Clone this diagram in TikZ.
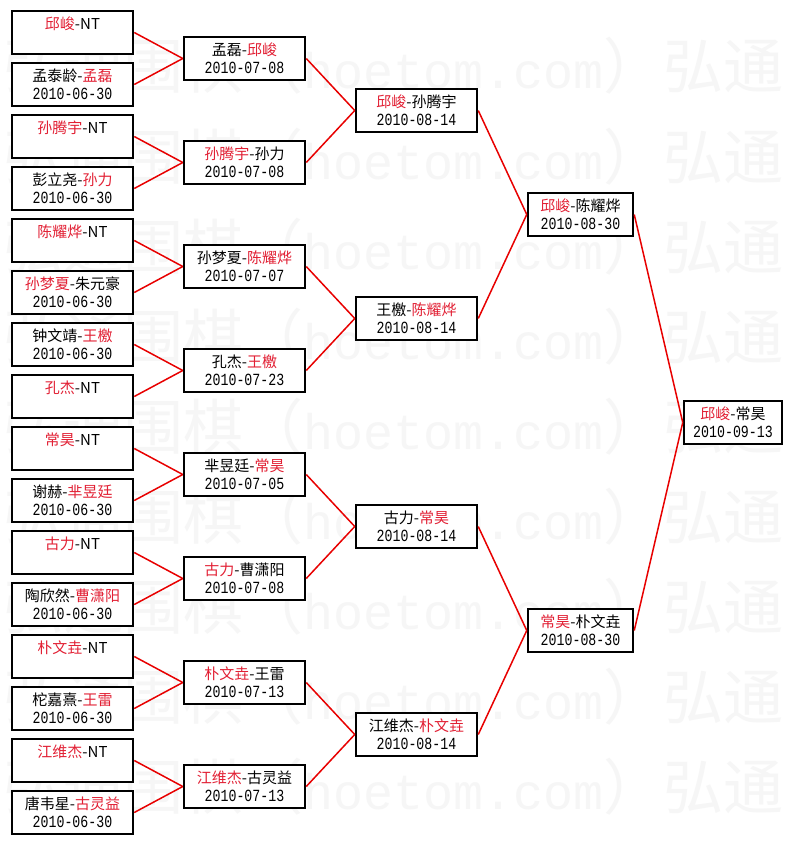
\documentclass[tikz,border=0pt]{standalone}
\usepackage{fontspec}
\setmainfont{Noto Sans CJK SC}
\newfontfamily\wmcjk{Noto Sans CJK SC}
\newfontfamily\datefont{Liberation Mono}[FakeStretch=0.78]
\newfontfamily\wmlat{Liberation Mono}
\definecolor{nred}{RGB}{226,32,52}
\definecolor{lred}{RGB}{232,0,0}
\definecolor{wmgray}{RGB}{246,246,246}
\newcommand\R[1]{\textcolor{nred}{#1}}
\newcommand\twol[2]{\vbox{\offinterlineskip\halign{\hfil##\hfil\cr
  \rule[-4.4pt]{0pt}{18.4pt}#1\cr
  \rule[-2.2pt]{0pt}{16.2pt}{\datefont\fontsize{17}{17}\selectfont #2}\cr}}}
\newcommand\wmrow{{\wmcjk 弘通围棋（}{\wmlat\fontsize{50}{50}\selectfont hoetom.com}{\wmcjk ）弘通}}
\tikzset{
  bx/.style={draw=black, line width=2pt, fill=white, inner sep=0pt,
    minimum height=43.5pt, font=\fontsize{15}{18}\selectfont},
  wa/.style={bx, minimum width=121.5pt},
  wb/.style={bx, minimum width=105.5pt},
  wc/.style={bx, minimum width=98.5pt},
  conn/.style={draw=lred, line width=1.5pt},
  wm/.style={text=wmgray, inner sep=0pt, anchor=base west, font=\fontsize{60}{60}\selectfont}
}
\begin{document}
\begin{tikzpicture}[x=1pt,y=-1pt]
\fill[white] (0,0) rectangle (792,845);
\useasboundingbox (0,0) rectangle (792,845);
% watermark
\foreach \i in {0,...,8} {
  \node[wm] (wm\i) at (3,{89+90*\i}) {\wmrow};
}
% column 1
\node[wa] (a0) at (72.5,32.5) {\twol{\R{邱峻}-NT}{}};
\node[wa] (a1) at (72.5,84.5) {\twol{孟泰龄-\R{孟磊}}{2010-06-30}};
\node[wa] (a2) at (72.5,136.5) {\twol{\R{孙腾宇}-NT}{}};
\node[wa] (a3) at (72.5,188.5) {\twol{彭立尧-\R{孙力}}{2010-06-30}};
\node[wa] (a4) at (72.5,240.5) {\twol{\R{陈耀烨}-NT}{}};
\node[wa] (a5) at (72.5,292.5) {\twol{\R{孙梦夏}-朱元豪}{2010-06-30}};
\node[wa] (a6) at (72.5,344.5) {\twol{钟文靖-\R{王檄}}{2010-06-30}};
\node[wa] (a7) at (72.5,396.5) {\twol{\R{孔杰}-NT}{}};
\node[wa] (a8) at (72.5,448.5) {\twol{\R{常昊}-NT}{}};
\node[wa] (a9) at (72.5,500.5) {\twol{谢赫-\R{芈昱廷}}{2010-06-30}};
\node[wa] (a10) at (72.5,552.5) {\twol{\R{古力}-NT}{}};
\node[wa] (a11) at (72.5,604.5) {\twol{陶欣然-\R{曹潇阳}}{2010-06-30}};
\node[wa] (a12) at (72.5,656.5) {\twol{\R{朴文垚}-NT}{}};
\node[wa] (a13) at (72.5,708.5) {\twol{柁嘉熹-\R{王雷}}{2010-06-30}};
\node[wa] (a14) at (72.5,760.5) {\twol{\R{江维杰}-NT}{}};
\node[wa] (a15) at (72.5,812.5) {\twol{唐韦星-\R{古灵益}}{2010-06-30}};
% column 2
\node[wa] (b0) at (244.5,58.5) {\twol{孟磊-\R{邱峻}}{2010-07-08}};
\node[wa] (b1) at (244.5,162.5) {\twol{\R{孙腾宇}-孙力}{2010-07-08}};
\node[wa] (b2) at (244.5,266.5) {\twol{孙梦夏-\R{陈耀烨}}{2010-07-07}};
\node[wa] (b3) at (244.5,370.5) {\twol{孔杰-\R{王檄}}{2010-07-23}};
\node[wa] (b4) at (244.5,474.5) {\twol{芈昱廷-\R{常昊}}{2010-07-05}};
\node[wa] (b5) at (244.5,578.5) {\twol{\R{古力}-曹潇阳}{2010-07-08}};
\node[wa] (b6) at (244.5,682.5) {\twol{\R{朴文垚}-王雷}{2010-07-13}};
\node[wa] (b7) at (244.5,786.5) {\twol{\R{江维杰}-古灵益}{2010-07-13}};
% column 3
\node[wa] (c0) at (416.5,110.5) {\twol{\R{邱峻}-孙腾宇}{2010-08-14}};
\node[wa] (c1) at (416.5,318.5) {\twol{王檄-\R{陈耀烨}}{2010-08-14}};
\node[wa] (c2) at (416.5,526.5) {\twol{古力-\R{常昊}}{2010-08-14}};
\node[wa] (c3) at (416.5,734.5) {\twol{江维杰-\R{朴文垚}}{2010-08-14}};
% column 4
\node[wb] (d0) at (580.5,214.5) {\twol{\R{邱峻}-陈耀烨}{2010-08-30}};
\node[wb] (d1) at (580.5,630.5) {\twol{\R{常昊}-朴文垚}{2010-08-30}};
% final
\node[wc] (e0) at (733,422.5) {\twol{\R{邱峻}-常昊}{2010-09-13}};
% connectors
\foreach \i [evaluate=\i as \j using {int(\i/2)}] in {0,...,15} {
  \draw[conn] (a\i.east) -- (b\j.west);
}
\foreach \i [evaluate=\i as \j using {int(\i/2)}] in {0,...,7} {
  \draw[conn] (b\i.east) -- (c\j.west);
}
\foreach \i [evaluate=\i as \j using {int(\i/2)}] in {0,...,3} {
  \draw[conn] (c\i.east) -- (d\j.west);
}
\draw[conn] (d0.east) -- (e0.west);
\draw[conn] (d1.east) -- (e0.west);
\end{tikzpicture}
\end{document}
